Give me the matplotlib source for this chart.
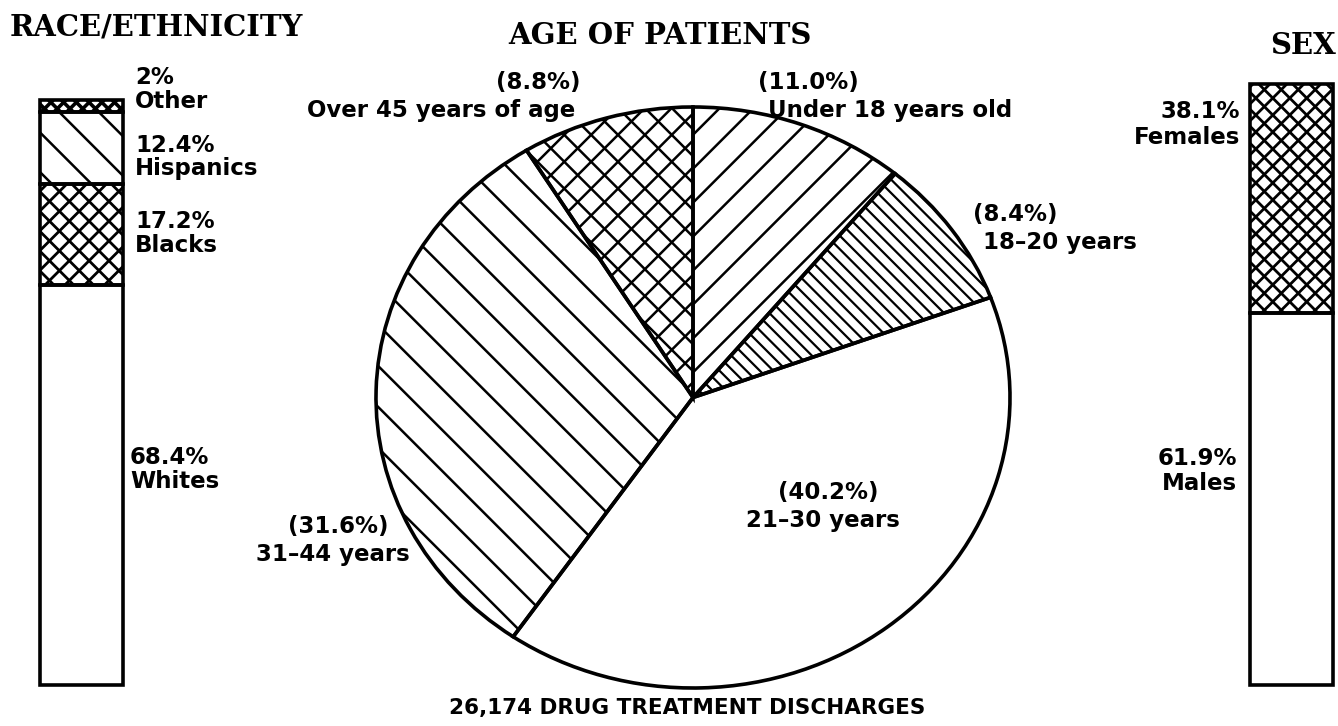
import numpy as np
import matplotlib
matplotlib.use("Agg")
import matplotlib.pyplot as plt
from matplotlib.collections import LineCollection
from matplotlib.transforms import IdentityTransform

W, H = 1338, 726

# data
race_labels = ["Whites", "Blacks", "Hispanics", "Other"]
race_pct = [68.4, 17.2, 12.4, 2.0]
age_labels = ["Over 45 years of age", "31\u201344 years", "21\u201330 years",
              "18\u201320 years", "Under 18 years old"]
age_pct = [8.8, 31.6, 40.2, 8.4, 11.0]
sex_labels = ["Males", "Females"]
sex_pct = [61.9, 38.1]
total_discharges = 26174

# hatch style per segment: (angles, gap in px, linewidth)
race_hatch = [None, ((45, -45), 14, 2.0), ((-45,), 28, 1.8), ((45, -45), 9, 2.6)]
age_hatch = [((45, -45), 19, 1.8), ((-45,), 29, 1.8), None, ((-45,), 9.5, 1.6), ((45,), 24, 1.8)]
sex_hatch = [None, ((45, -45), 12, 2.0)]

EDGE = 2.6
SANS = "DejaVu Sans"
SERIF = "DejaVu Serif"

fig = plt.figure(figsize=(W / 100, H / 100), dpi=100)
fig.patch.set_facecolor("white")


def px_axes(x0, y0, x1, y1):
    ax = fig.add_axes([x0 / W, 1 - y1 / H, (x1 - x0) / W, (y1 - y0) / H])
    ax.set_axis_off()
    return ax


def txt(x, y, s, ha="left", size=16.5, **kw):
    fig.text(x / W, 1 - y / H, s, ha=ha, va="center", fontsize=size,
             family=kw.pop("family", SANS), weight=kw.pop("weight", "bold"), **kw)


def hatch(ax, patch, spec):
    if spec is None:
        return
    angles, gap, lw = spec
    bb = patch.get_path().get_extents(patch.get_transform())
    corners = np.array([[bb.x0, bb.y0], [bb.x1, bb.y0], [bb.x0, bb.y1], [bb.x1, bb.y1]])
    for a in angles:
        r = np.deg2rad(a)
        d = np.array([np.cos(r), np.sin(r)])
        n = np.array([-np.sin(r), np.cos(r)])
        p = corners @ n
        t = corners @ d
        segs = []
        for k in np.arange(np.floor(p.min() / gap) * gap, p.max() + gap, gap):
            segs.append([k * n + t.min() * d, k * n + t.max() * d])
        lc = LineCollection(segs, colors="black", linewidths=lw,
                            transform=IdentityTransform(), zorder=2)
        ax.add_collection(lc, autolim=False)
        lc.set_clip_path(patch)


def stacked_bar(ax, values):
    bottoms = np.concatenate([[0], np.cumsum(values)[:-1]])
    bars = ax.bar(0, values, bottom=bottoms, width=1, facecolor="none",
                  edgecolor="black", linewidth=EDGE, zorder=3, clip_on=False)
    ax.set_xlim(-0.5, 0.5)
    ax.set_ylim(0, 100)
    return bars


# left bar: race / ethnicity
ax_race = px_axes(40, 100, 123, 685)
race_bars = stacked_bar(ax_race, race_pct)

# right bar: sex
ax_sex = px_axes(1250, 84, 1333, 685)
sex_bars = stacked_bar(ax_sex, sex_pct)

# pie: age
ax_age = px_axes(376, 107, 1010, 688)
wedges, _ = ax_age.pie(age_pct, startangle=90, counterclock=True,
                       wedgeprops=dict(facecolor="none", edgecolor="black",
                                       linewidth=EDGE, zorder=3, clip_on=False))
ax_age.set_aspect("auto")
ax_age.set_xlim(-1, 1)
ax_age.set_ylim(-1, 1)

fig.canvas.draw()
for bar, spec in zip(race_bars, race_hatch):
    hatch(ax_race, bar, spec)
for bar, spec in zip(sex_bars, sex_hatch):
    hatch(ax_sex, bar, spec)
for w, spec in zip(wedges, age_hatch):
    hatch(ax_age, w, spec)

# titles
txt(10, 27, "RACE/ETHNICITY", size=21, family=SERIF)
txt(660, 35, "AGE OF PATIENTS", ha="center", size=21, family=SERIF)
txt(1336, 45, "SEX", ha="right", size=21, family=SERIF)

# race labels
race_pos = [(130, 457), (135, 222), (135, 145), (135, 77)]
for (x, y), lab, v in zip(race_pos, race_labels, race_pct):
    txt(x, y, f"{v:g}%")
    txt(x, y + 24, lab)

# age labels
age_pos = [(580, 83, "right"), (338, 526, "center"), (828, 493, "center"),
           (973, 215, "left"), (758, 83, "left")]
for (x, y, ha), lab, v in zip(age_pos, age_labels, age_pct):
    txt(x, y, f"({v:.1f}%)", ha=ha)
    dx = {"left": 10, "right": -5, "center": -5}[ha]
    txt(x + dx, y + 28, lab, ha=ha)

# sex labels
sex_pos = [(1237, 458), (1240, 112)]
for (x, y), lab, v in zip(sex_pos, sex_labels, sex_pct):
    txt(x, y, f"{v:.1f}%", ha="right")
    txt(x, y + 25, lab, ha="right")

txt(687, 708, f"{total_discharges:,} DRUG TREATMENT DISCHARGES", ha="center", size=15.5)

fig.savefig("out.png", dpi=100, facecolor="white")
